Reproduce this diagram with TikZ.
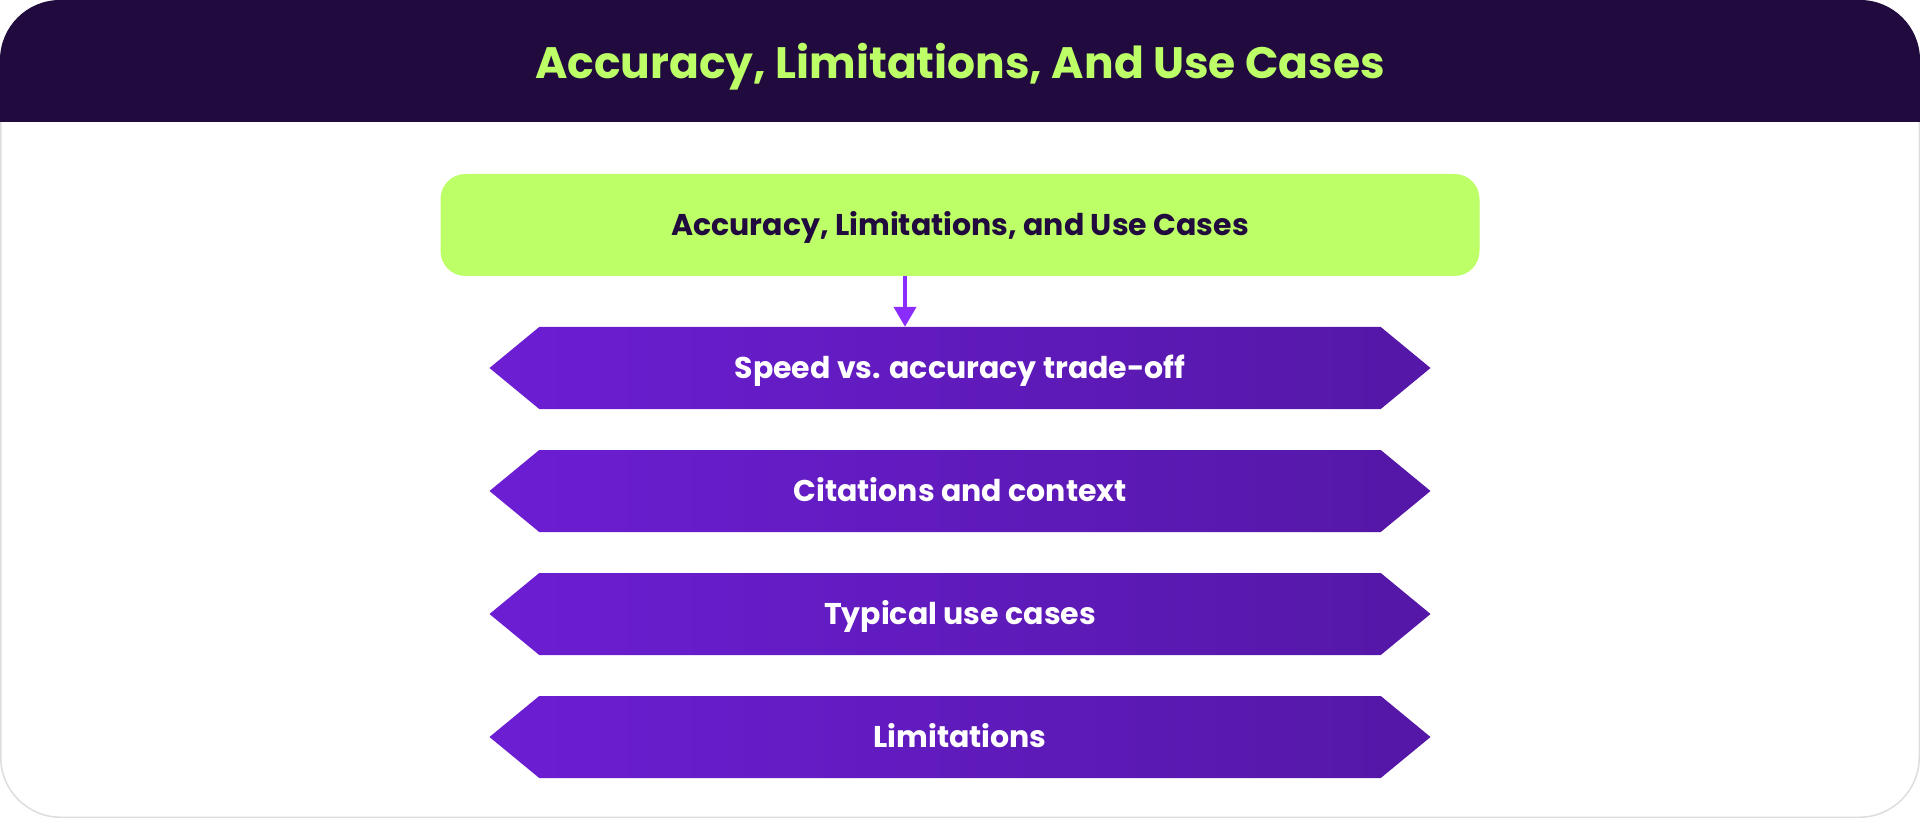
\documentclass[tikz,border=0pt]{standalone}
\usepackage{fontspec}
\setmainfont{Poppins}
\usetikzlibrary{arrows.meta, shapes.symbols}

\definecolor{headbg}{HTML}{200A3E}
\definecolor{lime}{HTML}{BDFF66}
\definecolor{violetL}{HTML}{6C1ED3}
\definecolor{violetR}{HTML}{5417A6}
\definecolor{arrowc}{HTML}{8B2CFF}
\definecolor{frame}{HTML}{DDDDDD}

\begin{document}
\begin{tikzpicture}[x=1pt, y=-1pt, >={Triangle[width=22pt, length=20pt]},
	topbox/.style={rectangle, rounded corners=25pt, fill=lime, text=headbg, minimum width=1039pt, minimum height=102pt, inner sep=0pt, text height=21pt, text depth=0pt, font=\bfseries\fontsize{30}{34}\selectfont},
	item/.style={signal, signal to=west and east, signal pointer angle=79, left color=violetL, right color=violetR, draw=none, text=white, minimum width=941pt, minimum height=82pt, inner sep=0pt, text height=21pt, text depth=0pt, font=\bfseries\fontsize{30}{34}\selectfont}]
		\useasboundingbox (0, 0) rectangle (1920, 818);
		\draw[frame, line width=1.5pt, rounded corners=60pt] (.75, .75) rectangle (1919.25, 817.25);
		\fill[headbg] (0, 122) [rounded corners=60pt] -- (0, 0) -- (1920, 0) [sharp corners] -- (1920, 122) -- cycle;
		\node[text=lime, text height=31pt, text depth=0pt, inner sep=0pt, font=\bfseries\fontsize{44}{50}\selectfont] (title) at (960, 63) {Accuracy, Limitations, And Use Cases};
		
		\node[topbox] (top) at (960, 225) {Accuracy, Limitations, and Use Cases};
		
		\node[item] (s1) at (960, 368) {Speed vs. accuracy trade-off};
		\node[item] (s2) at (960, 491) {Citations and context};
		\node[item] (s3) at (960, 614) {Typical use cases};
		\node[item] (s4) at (960, 737) {Limitations};
		
		\draw[->, arrowc, line width=4pt] ([xshift=-55pt]top.south) -- ([xshift=-55pt]s1.north);
	\end{tikzpicture}
\end{document}
